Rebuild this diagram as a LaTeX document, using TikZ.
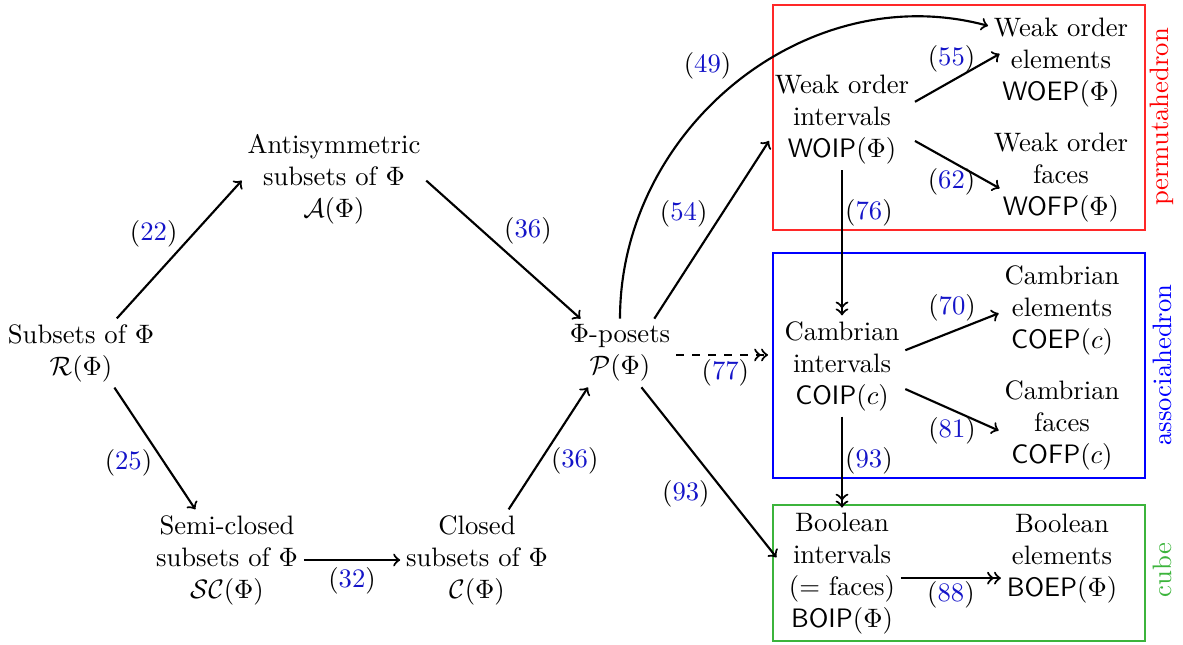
\documentclass[tikz,border=0pt]{standalone}
\usepackage{amsmath}
\definecolor{refblue}{RGB}{20,20,200}
\definecolor{cubegreen}{RGB}{60,180,60}
\definecolor{permred}{RGB}{255,40,40}
\newcommand{\lbl}[1]{(\textcolor{refblue}{#1})}
\begin{document}
\begin{tikzpicture}[x=0.375pt,y=-0.375pt,
  box/.style={align=center, inner sep=2pt},
  arr/.style={->, thick},
  darr/.style={->>, thick},
  lab/.style={inner sep=1pt},
  frame/.style={thin}]
\useasboundingbox (0,0) rectangle (1183,644);
% frames
\draw[frame, draw=permred] (773,5) rectangle (1145,230);
\draw[frame, draw=blue] (773,253) rectangle (1145,478);
\draw[frame, draw=cubegreen] (773,505) rectangle (1145,641);
\node[rotate=90, text=red] (perm) at (1162,117) {permutahedron};
\node[rotate=90, text=blue] (asso) at (1162,365) {associahedron};
\node[rotate=90, text=cubegreen] (cube) at (1162,570) {cube};
% nodes
\node[box] (R) at (81,353) {Subsets of $\Phi$\\$\mathcal{R}(\Phi)$};
\node[box] (A) at (334,179) {Antisymmetric\\subsets of $\Phi$\\$\mathcal{A}(\Phi)$};
\node[box] (SC) at (227,560) {Semi-closed\\subsets of $\Phi$\\$\mathcal{SC}(\Phi)$};
\node[box] (C) at (477,560) {Closed\\subsets of $\Phi$\\$\mathcal{C}(\Phi)$};
\node[box] (P) at (620,353) {$\Phi$-posets\\$\mathcal{P}(\Phi)$};
\node[box] (WOIP) at (842,120) {Weak order\\intervals\\\textsf{WOIP}$(\Phi)$};
\node[box] (WOEP) at (1061,63) {Weak order\\elements\\\textsf{WOEP}$(\Phi)$};
\node[box] (WOFP) at (1061,178) {Weak order\\faces\\\textsf{WOFP}$(\Phi)$};
\node[box] (COIP) at (842,366) {Cambrian\\intervals\\\textsf{COIP}$(c)$};
\node[box] (COEP) at (1062,310) {Cambrian\\elements\\\textsf{COEP}$(c)$};
\node[box] (COFP) at (1062,425) {Cambrian\\faces\\\textsf{COFP}$(c)$};
\node[box] (BOIP) at (842,574) {Boolean\\intervals\\(= faces)\\\textsf{BOIP}$(\Phi)$};
\node[box] (BOEP) at (1062,559) {Boolean\\elements\\\textsf{BOEP}$(\Phi)$};
% arrows
\draw[arr] (R.44) -- node[lab, midway, xshift=-9.6pt, yshift=5.8pt] {\lbl{22}} (A.181);
\draw[arr] (R.-46) -- node[lab, midway, xshift=-9.9pt, yshift=-5.4pt] {\lbl{25}} (SC.122);
\draw[arr] (SC) -- node[lab, midway, yshift=-7.9pt] {\lbl{32}} (C);
\draw[arr] (A.-1) -- node[lab, midway, xshift=9.2pt, yshift=7.1pt] {\lbl{36}} (P.139);
\draw[arr] (C.58) -- node[lab, midway, xshift=9.9pt, yshift=-4.7pt] {\lbl{36}} (P.227);
\draw[arr] (P.45) -- node[lab, midway, xshift=-10.5pt, yshift=6pt] {\lbl{54}} (WOIP.196);
\draw[arr] (P.north) .. controls +(0,-189) and +(-182.6,-49) ..
  node[lab, pos=0.5, xshift=-10.5pt, yshift=6.4pt] {\lbl{49}} (WOEP.153);
\draw[darr, dashed, shorten >=4pt] (P.-2) -- node[lab, midway, xshift=-0.75pt, yshift=-6.75pt] {\lbl{77}} (P.-2 -| COIP.west);
\draw[arr, shorten >=4pt] (P.-58) -- node[lab, midway, xshift=-9.9pt, yshift=-6.4pt] {\lbl{93}} (BOIP.172);
\draw[arr, shorten >=-5pt] (WOIP.14) -- node[lab, midway, yshift=8.25pt] {\lbl{55}} (WOEP.178);
\draw[arr, shorten >=-5pt] (WOIP.-16) -- node[lab, midway, yshift=-7.7pt] {\lbl{62}} (WOFP.183);
\draw[darr] (WOIP) -- node[lab, midway, xshift=10.1pt, yshift=11.4pt] {\lbl{76}} (COIP);
\draw[arr] (COIP.14) -- node[lab, midway, yshift=9pt] {\lbl{70}} (COEP.183);
\draw[arr] (COIP.-20) -- node[lab, midway, yshift=-7.7pt] {\lbl{81}} (COFP.185);
\draw[darr] (COIP) -- node[lab, midway, xshift=10.1pt, yshift=0.5pt] {\lbl{93}} (BOIP);
\draw[darr] (BOIP.-4) -- node[lab, midway, yshift=-6.4pt] {\lbl{88}} (BOIP.-4 -| BOEP.west);
\end{tikzpicture}
\end{document}
